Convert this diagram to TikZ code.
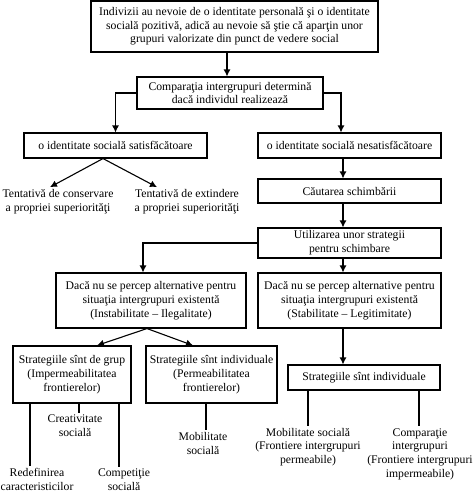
\documentclass[tikz,border=0pt]{standalone}
\usepackage{fontspec}
\setmainfont{Liberation Serif}
\usetikzlibrary{arrows.meta}
\begin{document}
\begin{tikzpicture}[x=1pt,y=-1pt,
  every node/.style={font=\fontsize{11.7}{13.7}\selectfont},
  bx/.style={draw, line width=1.1pt, inner sep=0pt, align=center},
  lbl/.style={inner sep=2pt, align=center},
  ln/.style={line width=1.1pt},
  arr/.style={line width=1.1pt, -{Latex[length=7pt,width=7pt]}}]
\useasboundingbox[fill=white] (0,0) rectangle (472,493);
% boxes
\node[bx, minimum width=287pt, minimum height=51pt] (top) at (234.5,26.5)
  {Indivizii au nevoie de o identitate personală şi o identitate\\socială pozitivă, adică au nevoie să ştie că aparţin unor\\grupuri valorizate din punct de vedere social};
\node[bx, minimum width=186pt, minimum height=32pt] (comp) at (230,93)
  {Comparaţia intergrupuri determină\\dacă individul realizează};
\node[bx, minimum width=183pt, minimum height=25pt] (sat) at (115.5,145.5)
  {o identitate socială satisfăcătoare};
\node[bx, minimum width=183pt, minimum height=25pt] (nes) at (349.5,145.5)
  {o identitate socială nesatisfăcătoare};
\node[bx, minimum width=183pt, minimum height=24pt] (cau) at (349.5,191)
  {Căutarea schimbării};
\node[bx, minimum width=183pt, minimum height=30pt] (uti) at (349.5,243)
  {Utilizarea unor strategii\\pentru schimbare};
\node[bx, minimum width=190pt, minimum height=55pt] (dl) at (151,300.5)
  {Dacă nu se percep alternative pentru\\situaţia intergrupuri existentă\\(Instabilitate – Ilegalitate)};
\node[bx, minimum width=183pt, minimum height=55pt] (dr) at (349.5,300.5)
  {Dacă nu se percep alternative pentru\\situaţia intergrupuri existentă\\(Stabilitate – Legitimitate)};
\node[bx, minimum width=118pt, minimum height=57pt] (sg) at (72,374.5)
  {Strategiile sînt de grup\\(Impermeabilitatea\\frontierelor)};
\node[bx, minimum width=131pt, minimum height=57pt] (si) at (211.5,374.5)
  {Strategiile sînt individuale\\(Permeabilitatea\\frontierelor)};
\node[bx, minimum width=152pt, minimum height=25pt] (sr) at (364,377.5)
  {Strategiile sînt individuale};
% labels
\node[lbl] (tl) at (58,201.5) {Tentativă de conservare\\a propriei superiorităţi};
\node[lbl] (tr) at (187,201.5) {Tentativă de extindere\\a propriei superiorităţi};
\node[lbl] (cre) at (75,426) {Creativitate\\socială};
\node[lbl] (red) at (37,479.5) {Redefinirea\\caracteristicilor};
\node[lbl] (com) at (124,479.5) {Competiţie\\socială};
\node[lbl] (mob1) at (203,443.5) {Mobilitate\\socială};
\node[lbl] (mob2) at (308,447) {Mobilitate socială\\(Frontiere intergrupuri\\permeabile)};
\node[lbl] (cmp) at (420,454) {Comparaţie\\intergrupuri\\(Frontiere intergrupuri\\impermeabile)};
% connectors
\draw[arr] ([xshift=-7.5pt]top.south) -- ([xshift=-7.5pt]top.south |- comp.north);
\draw[arr] (comp.west) -| (sat.north);
\draw[arr] (comp.east) -| ([xshift=-8.5pt]nes.north);
\draw[arr] ([xshift=-12.5pt]sat.south) -- ([xshift=-8pt]tl.north);
\draw[arr] ([xshift=-12.5pt]sat.south) -- ([xshift=-30pt]tr.north);
\draw[arr] ([xshift=-6.5pt]nes.south) -- ([xshift=-6.5pt]cau.north);
\draw[arr] ([xshift=-6.5pt]cau.south) -- ([xshift=-6.5pt]uti.north);
\draw[arr] ([xshift=-6.5pt]uti.south) -- ([xshift=-6.5pt]dr.north);
\draw[arr] (uti.west) -| ([xshift=-8pt]dl.north);
\draw[arr] ([xshift=-4pt]dl.south) -- ([xshift=25pt]sg.north);
\draw[arr] ([xshift=-4pt]dl.south) -- ([xshift=-18.5pt]si.north);
\draw[arr] ([xshift=-6.5pt]dr.south) -- ([xshift=-6.5pt]dr.south |- sr.north);
\draw[ln] ([xshift=-42pt]sg.south) -- ([xshift=-7pt]red.north);
\draw[ln] ([xshift=7pt]sg.south) -- ([xshift=4pt]cre.north);
\draw[ln] ([xshift=47pt]sg.south) -- ([xshift=-5pt]com.north);
\draw[ln] ([xshift=-5.5pt]si.south) -- ([xshift=3pt]mob1.north);
\draw[ln] ([xshift=-56pt]sr.south) -- (mob2.north);
\draw[ln] ([xshift=55pt]sr.south) -- ([xshift=-1pt]cmp.north);
\end{tikzpicture}
\end{document}
